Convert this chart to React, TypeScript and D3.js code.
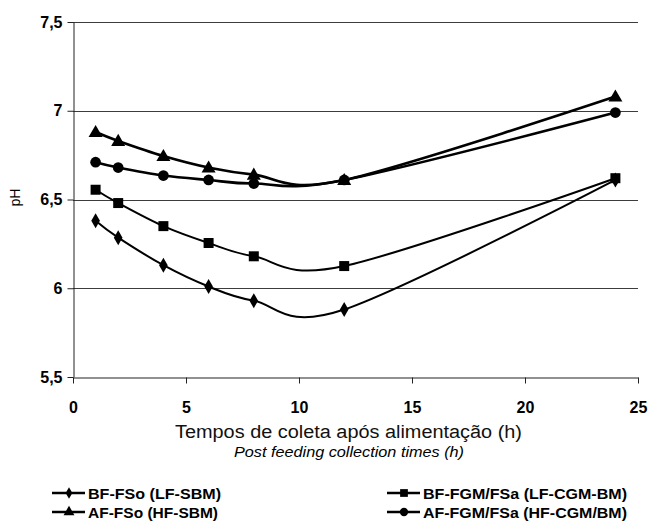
import { useEffect, useRef } from "react";
import * as d3 from "d3";

const times = [1, 2, 4, 6, 8, 12, 24];
const bfFso = [6.38, 6.285, 6.13, 6.01, 5.93, 5.88, 6.61];
const bfFgm = [6.555, 6.48, 6.35, 6.255, 6.18, 6.125, 6.62];
const afFso = [6.88, 6.83, 6.745, 6.68, 6.64, 6.61, 7.08];
const afFgm = [6.71, 6.68, 6.635, 6.61, 6.59, 6.61, 6.99];

const xTicks = [0, 5, 10, 15, 20, 25];
const yTicks = [5.5, 6, 6.5, 7, 7.5];

const seriesNames = [
    "BF-FSo (LF-SBM)",
    "BF-FGM/FSa (LF-CGM-BM)",
    "AF-FSo (HF-SBM)",
    "AF-FGM/FSa (HF-CGM/BM)",
];

const font = "Arial, 'Liberation Sans', sans-serif";

const App = () => {
    const svgRef = useRef<SVGSVGElement>(null);

    useEffect(() => {
        const svg = d3.select(svgRef.current);
        svg.selectAll("*").remove();

        const x = d3.scaleLinear().domain([0, 25]).range([73, 638]);
        const y = d3.scaleLinear().domain([5.5, 7.5]).range([377, 22]);

        // gridlines
        svg.append("g")
            .selectAll("line")
            .data(yTicks.filter((d) => d > 5.5))
            .enter()
            .append("line")
            .attr("x1", x(0))
            .attr("x2", x(25))
            .attr("y1", (d) => Math.round(y(d)) + 0.5)
            .attr("y2", (d) => Math.round(y(d)) + 0.5)
            .attr("stroke", "#3c3c3c")
            .attr("stroke-width", 1);

        const fmt = (d: number) => String(d).replace(".", ",");

        const yAxis = svg.append("g")
            .attr("transform", `translate(${x(0) + 0.5},0)`)
            .call(d3.axisLeft(y).tickValues(yTicks).tickSize(6).tickSizeOuter(0).tickFormat((d) => fmt(d as number)));
        yAxis.select(".domain").attr("stroke", "#222");
        yAxis.selectAll(".tick line").attr("stroke", "#222");
        yAxis.selectAll("text")
            .attr("x", -11)
            .style("font-family", font)
            .style("font-size", "16px")
            .style("font-weight", "bold")
            .attr("fill", "#000");

        const xAxis = svg.append("g")
            .attr("transform", `translate(0,${y(5.5) + 0.5})`)
            .call(d3.axisBottom(x).tickValues(xTicks).tickSize(6).tickSizeOuter(0).tickFormat((d) => String(d)));
        xAxis.select(".domain").attr("stroke", "#222");
        xAxis.selectAll(".tick line").attr("stroke", "#222");
        xAxis.selectAll("text")
            .attr("y", 24)
            .style("font-family", font)
            .style("font-size", "16px")
            .style("font-weight", "bold")
            .attr("fill", "#000");

        svg.append("text")
            .attr("transform", `translate(20,${y(6.5) - 2}) rotate(-90)`)
            .attr("text-anchor", "middle")
            .style("font-family", font)
            .style("font-size", "14px")
            .text("pH");

        svg.append("text")
            .attr("x", 175)
            .attr("y", 438)
            .style("font-family", font)
            .style("font-size", "18px")
            .attr("fill", "#111")
            .attr("textLength", 347)
            .attr("lengthAdjust", "spacingAndGlyphs")
            .text("Tempos de coleta após alimentação (h)");

        svg.append("text")
            .attr("x", 234)
            .attr("y", 457)
            .style("font-family", font)
            .style("font-size", "14px")
            .style("font-style", "italic")
            .attr("textLength", 230)
            .attr("lengthAdjust", "spacingAndGlyphs")
            .text("Post feeding collection times (h)");

        const line = d3.line<number>()
            .x((d, i) => x(times[i]))
            .y((d) => y(d))
            .curve(d3.curveCardinal);

        const all = [bfFso, bfFgm, afFso, afFgm];
        const widths = [2, 2, 2.6, 2.6];
        const symbols = [d3.symbolDiamond, d3.symbolSquare, d3.symbolTriangle, d3.symbolCircle];
        const sizes = [65, 100, 85, 90];

        all.forEach((vals, k) => {
            svg.append("path")
                .datum(vals)
                .attr("d", line)
                .attr("fill", "none")
                .attr("stroke", "#000")
                .attr("stroke-width", widths[k]);
        });
        all.forEach((vals, k) => {
            const sym = d3.symbol().type(symbols[k]).size(sizes[k]);
            svg.append("g")
                .selectAll("path")
                .data(vals)
                .enter()
                .append("path")
                .attr("d", sym)
                .attr("transform", (d, i) => `translate(${x(times[i])},${y(d) + (k === 2 ? 1 : 0)})`)
                .attr("fill", "#000");
        });

        // legend
        const legendPos = [
            [52, 493],
            [387, 493],
            [52, 512],
            [387, 512],
        ];
        const legendLen = [133, 204, 130, 204];
        seriesNames.forEach((name, k) => {
            const [lx, ly] = legendPos[k];
            const g = svg.append("g").attr("transform", `translate(${lx},${ly})`);
            g.append("line")
                .attr("x1", 0)
                .attr("x2", 33)
                .attr("stroke", "#000")
                .attr("stroke-width", 2.6);
            g.append("path")
                .attr("d", d3.symbol().type(symbols[k]).size(sizes[k] * 0.6)())
                .attr("transform", "translate(17,0)")
                .attr("fill", "#000");
            g.append("text")
                .attr("x", 36)
                .attr("y", 5.5)
                .style("font-family", font)
                .style("font-size", "15px")
                .style("font-weight", "bold")
                .attr("textLength", legendLen[k])
                .attr("lengthAdjust", "spacingAndGlyphs")
                .text(name);
        });
    }, []);

    return (
        <svg
            ref={svgRef}
            width={652}
            height={530}
            style={{ position: "absolute", left: 0, top: 0, background: "#fff" }}
        />
    );
};

export default App;
